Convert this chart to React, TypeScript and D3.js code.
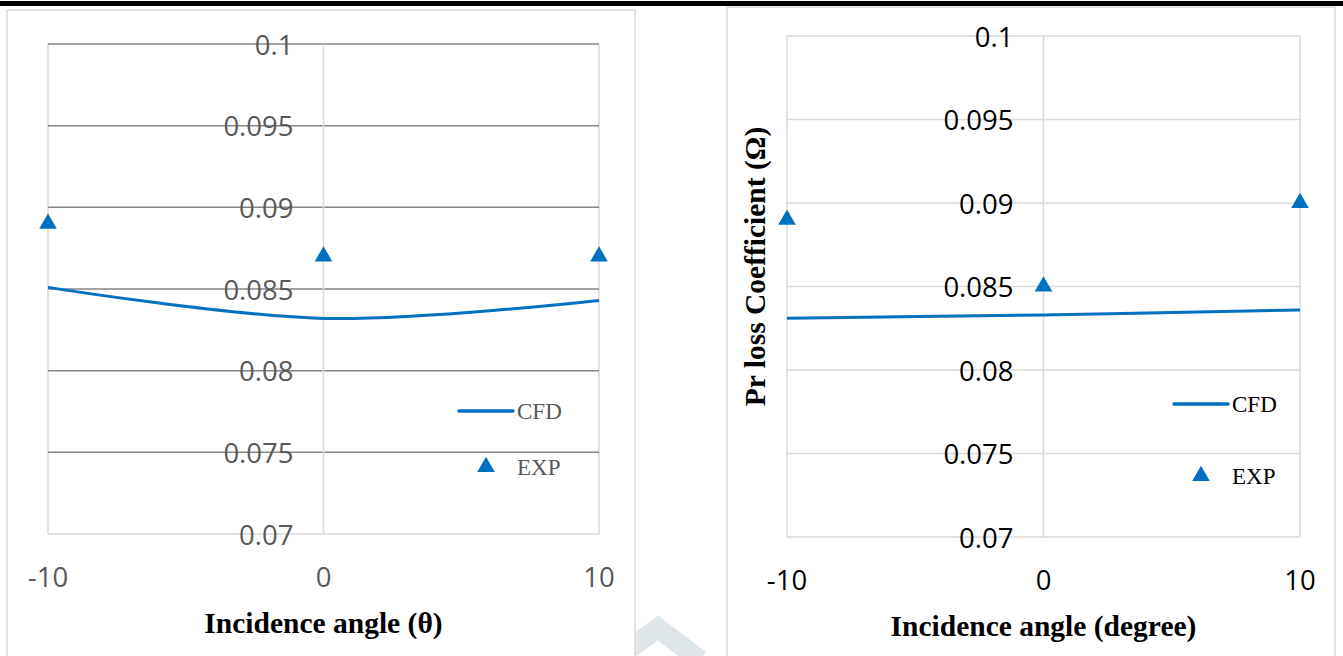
import * as d3 from 'd3';

// two Excel-style panels: loss coefficient vs incidence angle
const angles = [-10, 0, 10];
const xTicks = [-10, 0, 10];
const yTicks = [0.07, 0.075, 0.08, 0.085, 0.09, 0.095, 0.1];

const cfdLeft = [0.0851, 0.0832, 0.0843];
const expLeft = [0.089, 0.087, 0.087];
const cfdRight = [0.0831, 0.0833, 0.0836];
const expRight = [0.089, 0.085, 0.09];

const seriesNames = ['CFD', 'EXP'];

const BLUE = '#0070c0';
const LIGHT = '#d9d9d9';
const TICK_FONT = '"Open Sans", sans-serif';
const TITLE_FONT = '"Liberation Serif", "Times New Roman", serif';

const W = 1343;
const H = 656;

type PanelProps = {
  frame: { x: number; y: number; w: number; h: number };
  plot: { left: number; right: number; top: number; bottom: number };
  cfd: number[];
  exp: number[];
  xTitle: string;
  yTitle?: string;
  darkGrid: boolean;
  tickColor: string;
  legendColor: string;
  legend: { x0: number; x1: number; y0: number; y1: number; tx: number };
};

function Panel(p: PanelProps) {
  const x = d3.scaleLinear().domain([-10, 10]).range([p.plot.left, p.plot.right]);
  const y = d3.scaleLinear().domain([0.07, 0.1]).range([p.plot.bottom, p.plot.top]);
  const line = d3
    .line<number>()
    .x((_, i) => x(angles[i]))
    .y((d) => y(d))
    .curve(d3.curveCatmullRom);
  const tri = d3.symbol(d3.symbolTriangle, 135)()!;
  const x0 = x(0);

  return (
    <g>
      <rect
        x={p.frame.x}
        y={p.frame.y}
        width={p.frame.w}
        height={p.frame.h}
        fill="#fff"
        stroke={LIGHT}
        strokeWidth={1.5}
      />
      {/* plot area sides */}
      <line x1={p.plot.left} x2={p.plot.left} y1={p.plot.top} y2={p.plot.bottom} stroke={LIGHT} strokeWidth={1.5} />
      <line x1={p.plot.right} x2={p.plot.right} y1={p.plot.top} y2={p.plot.bottom} stroke={LIGHT} strokeWidth={1.5} />
      {/* horizontal gridlines */}
      {yTicks.map((t) => (
        <line
          key={t}
          x1={p.plot.left}
          x2={p.plot.right}
          y1={y(t)}
          y2={y(t)}
          stroke={p.darkGrid && t > 0.07 ? '#868686' : LIGHT}
          strokeWidth={1.5}
        />
      ))}
      {/* value axis at x = 0 */}
      <line x1={x0} x2={x0} y1={p.plot.top} y2={p.plot.bottom} stroke={LIGHT} strokeWidth={1.5} />
      {yTicks.map((t) => (
        <text
          key={t}
          x={x0 - 30}
          y={y(t)}
          textAnchor="end"
          dominantBaseline="central"
          fontFamily={TICK_FONT}
          fontSize={27.5}
          fill={p.tickColor}
        >
          {String(t)}
        </text>
      ))}
      {xTicks.map((t) => (
        <text
          key={t}
          x={x(t)}
          y={p.plot.bottom + 42}
          textAnchor="middle"
          dominantBaseline="central"
          fontFamily={TICK_FONT}
          fontSize={27.5}
          fill={p.tickColor}
        >
          {String(t)}
        </text>
      ))}
      <path d={line(p.cfd) ?? ''} fill="none" stroke={BLUE} strokeWidth={3} />
      {p.exp.map((v, i) => (
        <path key={i} d={tri} transform={`translate(${x(angles[i])},${y(v)})`} fill={BLUE} />
      ))}
      <text
        x={x0}
        y={p.plot.bottom + 89}
        textAnchor="middle"
        dominantBaseline="central"
        fontFamily={TITLE_FONT}
        fontWeight="bold"
        fontSize={29.5}
        fill="#000"
      >
        {p.xTitle}
      </text>
      {p.yTitle && (
        <text
          transform={`translate(${p.frame.x + 28},${(p.plot.top + p.plot.bottom) / 2 - 20}) rotate(-90)`}
          textAnchor="middle"
          dominantBaseline="central"
          fontFamily={TITLE_FONT}
          fontWeight="bold"
          fontSize={29.5}
          fill="#000"
        >
          {p.yTitle}
        </text>
      )}
      {/* legend */}
      <line
        x1={p.legend.x0}
        x2={p.legend.x1}
        y1={p.legend.y0}
        y2={p.legend.y0}
        stroke={BLUE}
        strokeWidth={3.5}
        strokeLinecap="round"
      />
      <path d={tri} transform={`translate(${(p.legend.x0 + p.legend.x1) / 2},${p.legend.y1})`} fill={BLUE} />
      {seriesNames.map((n, i) => (
        <text
          key={n}
          x={p.legend.tx}
          y={i === 0 ? p.legend.y0 : p.legend.y1}
          dominantBaseline="central"
          fontFamily={TITLE_FONT}
          fontSize={23}
          fill={p.legendColor}
        >
          {n}
        </text>
      ))}
    </g>
  );
}

export default function App() {
  return (
    <svg
      width={W}
      height={H}
      viewBox={`0 0 ${W} ${H}`}
      style={{ position: 'absolute', left: 0, top: 0, background: '#fff' }}
    >
      <rect x={0} y={0} width={W} height={H} fill="#fff" />
      {/* faint watermark between the panels */}
      <polyline points="628,650 658,628 700,660" fill="none" stroke="#dfe6ea" strokeWidth={20} />
      <Panel
        frame={{ x: 7, y: 10, w: 628, h: 660 }}
        plot={{ left: 48, right: 599, top: 44, bottom: 534 }}
        cfd={cfdLeft}
        exp={expLeft}
        xTitle="Incidence angle (θ)"
        darkGrid={true}
        tickColor="#595959"
        legendColor="#595959"
        legend={{ x0: 459, x1: 513, y0: 411, y1: 467, tx: 517 }}
      />
      <Panel
        frame={{ x: 727, y: 7, w: 608, h: 660 }}
        plot={{ left: 787, right: 1300, top: 36, bottom: 537 }}
        cfd={cfdRight}
        exp={expRight}
        xTitle="Incidence angle (degree)"
        yTitle="Pr loss Coefficient (Ω)"
        darkGrid={false}
        tickColor="#000"
        legendColor="#000"
        legend={{ x0: 1174, x1: 1228, y0: 404, y1: 476, tx: 1232 }}
      />
      {/* page rule across the top */}
      <rect x={0} y={1} width={W} height={5} fill="#000" />
    </svg>
  );
}
